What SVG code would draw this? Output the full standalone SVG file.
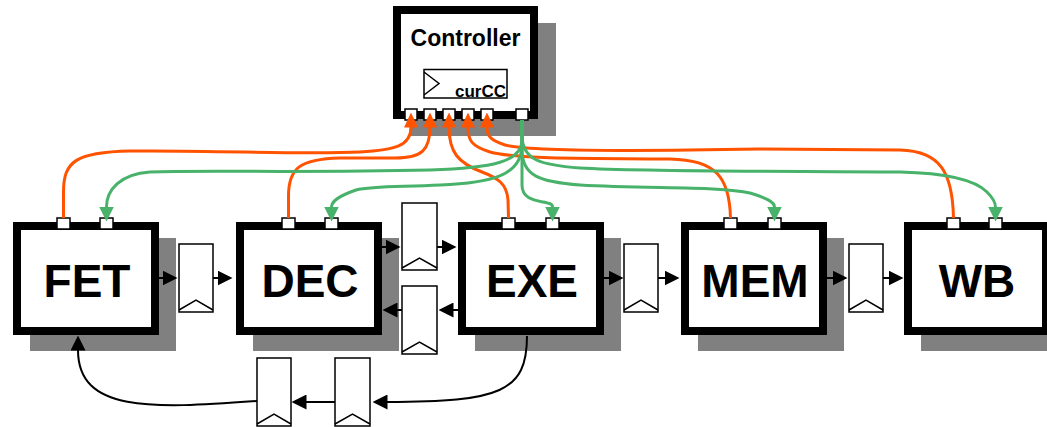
<svg xmlns="http://www.w3.org/2000/svg" width="1047" height="427" viewBox="0 0 1047 427">
<style>
.shadow{fill:#808080;stroke:none}
.box{fill:#fff;stroke:#000;stroke-width:8}
.port{fill:#fff;stroke:#000;stroke-width:1.5}
.reg{fill:#fff;stroke:#000;stroke-width:1.5}
.clk{fill:none;stroke:#000;stroke-width:1.5}
.lbl{font-family:"Liberation Sans",Arial,sans-serif;font-weight:bold;fill:#000}
.stage{font-size:46px;text-anchor:middle}
.or{fill:none;stroke:#FF5300;stroke-width:3;marker-end:url(#ah-o)}
.gr{fill:none;stroke:#48B26A;stroke-width:3;marker-end:url(#ah-g)}
.bk{fill:none;stroke:#000;stroke-width:2;marker-end:url(#ah-b)}
</style>
<defs>
<marker id="ah-o" markerUnits="userSpaceOnUse" markerWidth="15" markerHeight="14" viewBox="0 0 15 14" refX="0.5" refY="7" orient="auto"><path d="M0,0 L15,7 L0,14 z" fill="#FF5300"/></marker>
<marker id="ah-g" markerUnits="userSpaceOnUse" markerWidth="15" markerHeight="15" viewBox="0 0 15 15" refX="0.5" refY="7.5" orient="auto"><path d="M0,0 L15,7.5 L0,15 z" fill="#48B26A"/></marker>
<marker id="ah-b" markerUnits="userSpaceOnUse" markerWidth="15" markerHeight="15" viewBox="0 0 15 15" refX="0.5" refY="7.5" orient="auto"><path d="M0,0 L15,7.5 L0,15 z" fill="#000"/></marker>
</defs>

<g id="controller">
<rect class="shadow" x="410" y="23" width="146" height="113"/>
<rect class="box" x="397" y="10" width="137" height="105"/>
<text class="lbl" x="465.5" y="45.5" font-size="23" text-anchor="middle">Controller</text>
<rect class="reg" x="424" y="69.5" width="83" height="28.5"/>
<polyline class="clk" points="424,72 439,83.5 424,95"/>
<text class="lbl" x="506" y="96.5" font-size="17" text-anchor="end">curCC</text>
<rect class="port" x="405" y="109" width="12" height="11"/>
<rect class="port" x="424" y="109" width="12" height="11"/>
<rect class="port" x="443" y="109" width="12" height="11"/>
<rect class="port" x="462" y="109" width="12" height="11"/>
<rect class="port" x="481" y="109" width="12" height="11"/>
<rect class="port" x="516" y="109" width="12" height="11"/>
</g>

<g id="FET">
<rect class="shadow" x="30" y="238" width="146" height="113"/>
<rect class="box" x="17" y="226" width="138" height="105"/>
<text class="lbl stage" x="87" y="297">FET</text>
<rect class="port" x="57" y="218" width="13" height="11"/>
<rect class="port" x="100" y="218" width="13" height="11"/>
</g>

<g id="DEC">
<rect class="shadow" x="253" y="238" width="146" height="113"/>
<rect class="box" x="240" y="226" width="138" height="105"/>
<text class="lbl stage" x="310" y="297">DEC</text>
<rect class="port" x="282" y="218" width="13" height="11"/>
<rect class="port" x="325" y="218" width="13" height="11"/>
</g>

<g id="EXE">
<rect class="shadow" x="475" y="238" width="146" height="113"/>
<rect class="box" x="462" y="226" width="138" height="105"/>
<text class="lbl stage" x="532" y="297">EXE</text>
<rect class="port" x="502" y="218" width="13" height="11"/>
<rect class="port" x="546" y="218" width="13" height="11"/>
</g>

<g id="MEM">
<rect class="shadow" x="698" y="238" width="146" height="113"/>
<rect class="box" x="685" y="226" width="138" height="105"/>
<text class="lbl stage" x="755" y="297">MEM</text>
<rect class="port" x="724" y="218" width="13" height="11"/>
<rect class="port" x="768" y="218" width="13" height="11"/>
</g>

<g id="WB">
<rect class="shadow" x="921" y="238" width="146" height="113"/>
<rect class="box" x="908" y="226" width="138" height="105"/>
<text class="lbl stage" x="977" y="297">WB</text>
<rect class="port" x="947" y="218" width="13" height="11"/>
<rect class="port" x="989" y="218" width="13" height="11"/>
</g>

<g id="reg-fet-dec">
<rect class="reg" x="179" y="244" width="34" height="68"/>
<polyline class="clk" points="179,310 196,300 213,310"/>
</g>
<g id="reg-dec-exe">
<rect class="reg" x="402" y="203" width="35" height="67"/>
<polyline class="clk" points="402,268 419.5,258 437,268"/>
</g>
<g id="reg-exe-dec">
<rect class="reg" x="402" y="286" width="35" height="68"/>
<polyline class="clk" points="402,352 419.5,342 437,352"/>
</g>
<g id="reg-exe-mem">
<rect class="reg" x="624" y="244" width="34" height="68"/>
<polyline class="clk" points="624,310 641,300 658,310"/>
</g>
<g id="reg-mem-wb">
<rect class="reg" x="849" y="244" width="34" height="68"/>
<polyline class="clk" points="849,310 866,300 883,310"/>
</g>
<g id="reg-back-1">
<rect class="reg" x="257" y="358" width="34" height="68"/>
<polyline class="clk" points="257,424 274,414 291,424"/>
</g>
<g id="reg-back-2">
<rect class="reg" x="335" y="358" width="35" height="68"/>
<polyline class="clk" points="335,424 352.5,414 370,424"/>
</g>

<g id="connectors">
<!-- orange: stages to controller -->
<path class="or" d="M63.5,218 L63.5,192 C63.5,162 75,152 130,151 C220,150 300,155 360,152 C395,150 411,146 411,127"/>
<path class="or" d="M288.5,218 L288.5,196 C288.5,168 300,159 340,158 L395,158 C422,158 430,150 430,127"/>
<path class="or" d="M508.5,218 L508,200 C507,184 498,178 482,172 C458,163 449,152 449,127"/>
<path class="or" d="M730.5,218 C729.5,177 716,160 670,159 C600,158 520,160 490,152 C471,146 468,140 468,127"/>
<path class="or" d="M953.5,218 C952.5,172 940,151 900,150 L760,149 C650,151 530,152 505,145 C490,140 487,136 487,127"/>
<!-- green: controller to stages -->
<path class="gr" d="M522,120 L522,140 C522,162 492,168 430,170 C300,173 200,170 150,172 C120,174 106.5,190 106.5,207"/>
<path class="gr" d="M522,120 L522,145 C522,176 490,183 440,185 C400,187 372,186 356,190 C339,196 331.5,201 331.5,207"/>
<path class="gr" d="M522,120 L522,185 C522,198 533,200 543,202 C550,203.5 552.5,204 552.5,207"/>
<path class="gr" d="M522,120 L522,150 C522,176 540,182 580,185 C650,189 720,186 750,193 C767,198 774.5,202 774.5,207"/>
<path class="gr" d="M522,120 L522,135 C522,160 540,165 580,168 C650,172 800,171 900,172 C945,173 975,180 987,192 C993,198 995.5,202 995.5,207"/>
<!-- black: pipeline -->
<path class="bk" d="M159,278 L163,278"/>
<path class="bk" d="M213,278 L218,278"/>
<path class="bk" d="M382,247 L386,247"/>
<path class="bk" d="M437,247 L442,247"/>
<path class="bk" d="M458,310 L453,310"/>
<path class="bk" d="M402,310 L397,310"/>
<path class="bk" d="M604,278 L609,278"/>
<path class="bk" d="M658,278 L665,278"/>
<path class="bk" d="M827,278 L833,278"/>
<path class="bk" d="M883,278 L889,278"/>
<path class="bk" d="M527,336 C527,392 500,402 387,402"/>
<path class="bk" d="M335,402 L306,402"/>
<path class="bk" d="M257,401 C150,409 78,412 78,350"/>
</g>
</svg>
